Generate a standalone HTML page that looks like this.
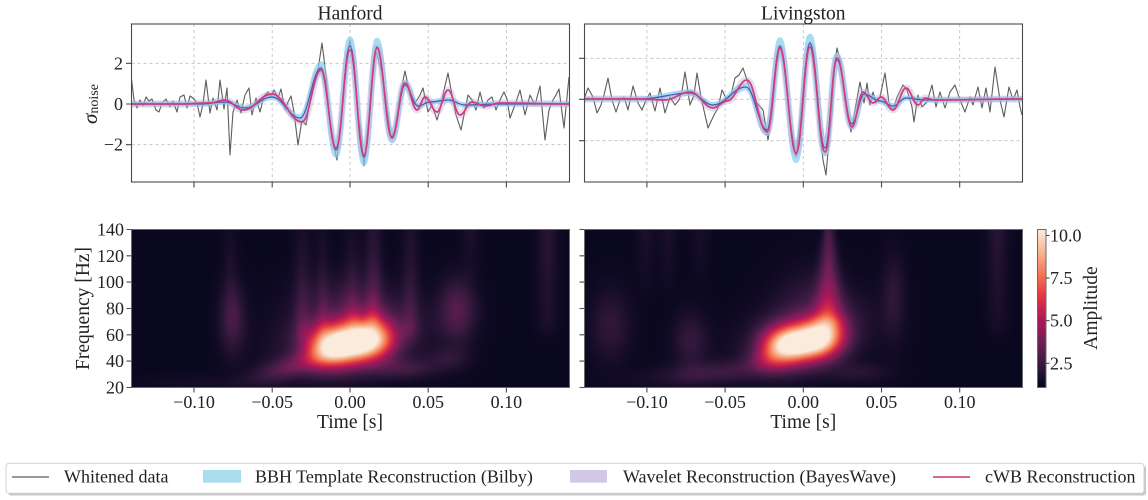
<!DOCTYPE html>
<html>
<head>
<meta charset="utf-8">
<style>
html,body{margin:0;padding:0;background:#fff;}
body{width:1148px;height:500px;overflow:hidden;position:relative;}
canvas{position:absolute;background:#0a0820;}
#ov{position:absolute;left:0;top:0;z-index:2;}
svg text{font-family:"Liberation Serif","DejaVu Serif",serif;fill:#222;}
</style>
</head>
<body>
<canvas id="cH" width="438" height="158" style="left:131.5px;top:229.5px;width:438px;height:158px;"></canvas>
<canvas id="cL" width="438" height="158" style="left:584.5px;top:229.5px;width:438px;height:158px;"></canvas>

<svg id="ov" width="1148" height="500" viewBox="0 0 1148 500" xmlns="http://www.w3.org/2000/svg">
<defs>
<clipPath id="clipH"><rect x="131.5" y="24" width="438" height="158"/></clipPath>
<clipPath id="clipL"><rect x="584.5" y="24" width="438" height="158"/></clipPath>
<linearGradient id="rocket" x1="0" y1="1" x2="0" y2="0">
<stop offset="0" stop-color="#03051a"/>
<stop offset="0.1429" stop-color="#35193e"/>
<stop offset="0.2857" stop-color="#701f57"/>
<stop offset="0.4286" stop-color="#ad1759"/>
<stop offset="0.5714" stop-color="#e13342"/>
<stop offset="0.7143" stop-color="#f37651"/>
<stop offset="0.8571" stop-color="#f6b48f"/>
<stop offset="1" stop-color="#faebdd"/>
</linearGradient>
</defs>

<!-- grids -->
<g stroke="#bdbdbd" stroke-width="0.8" stroke-dasharray="3 3" fill="none">
<path d="M194,24V182 M272.2,24V182 M350,24V182 M428.2,24V182 M506.4,24V182 M131.5,63.3H569.5 M131.5,104H569.5 M131.5,144.7H569.5"/>
<path d="M646.9,24V182 M725.1,24V182 M803.3,24V182 M881.5,24V182 M959.7,24V182 M584.5,58.3H1022.5 M584.5,99.3H1022.5 M584.5,140.7H1022.5"/>
</g>

<!-- Hanford series -->
<g clip-path="url(#clipH)" fill="none">
<polyline stroke="#5c5c5c" stroke-width="1.1" stroke-linejoin="round" points="131,75 134,100 137,108 140,100 143,106 146,97 149,101 152,99 156,110 159,112 162,103 166,99 170,107 173,101 177,112 180,97 184,95 187,108 190,96 194,99 197,103 200,117 203,104 206,80 210,113 213,98 217,110 220,80 224,109 227,88 230,155 233,112 237,100 241,113 245,95 249,88 252,115 256,98 260,112 264,96 268,92 271,97 274,90 278,98 281,89 285,110 288,102 291,96 294,112 298,145 302,120 306,125 310,100 315,82 318,70 322,43 326,75 330,125 333,142 337,160 342,110 347,55 350,40 354,70 358,115 361,130 364,166 368,130 372,80 376,51 379,62 382,73 386,100 391,137 395,130 400,95 405,71 409,90 413,105 417,100 420,95 423,88 428,112 432,105 437,120 440,110 444,90 448,73 452,95 456,115 461,130 465,110 468,95 472,100 476,110 480,92 484,108 488,100 492,97 496,110 500,100 504,92 507,99 510,118 515,105 520,90 525,115 530,95 535,105 540,86 545,140 549,110 553,100 556,95 559,89 564,128 569,77"/>
<g opacity="0.7" stroke="#87ceeb" stroke-width="5" stroke-linejoin="round">
<path vector-effect="non-scaling-stroke" transform="matrix(1,0,0,1.12,0,-12.48)" d="M131,104 C159,104 172,104 200,104 C210,104 215,102 225,102 C233,102 237,108 245,108 C256,108 261,97 272,97 C283,97 289,118 300,118 C308,118 313,68 321,68 C327,68 330,150 336,150 C342,150 344,46 350,46 C356,46 358,157 364,157 C369,157 372,47 377,47 C383,47 386,137 392,137 C397,137 400,85 405,85 C410,85 413,106 418,106 C423,106 425,102 430,102 C437,102 441,100 448,100 C455,100 458,105 465,105 C479,105 486,104 500,104 C528,104 541,104 569,104"/>
<path d="M131,104 C159,104 172,104 200,104 C210,104 215,102 225,102 C233,102 237,108 245,108 C256,108 261,97 272,97 C283,97 289,118 300,118 C308,118 313,68 321,68 C327,68 330,150 336,150 C342,150 344,46 350,46 C356,46 358,157 364,157 C369,157 372,47 377,47 C383,47 386,137 392,137 C397,137 400,85 405,85 C410,85 413,106 418,106 C423,106 425,102 430,102 C437,102 441,100 448,100 C455,100 458,105 465,105 C479,105 486,104 500,104 C528,104 541,104 569,104"/>
<path vector-effect="non-scaling-stroke" transform="matrix(1,0,0,0.92,0,8.32)" d="M131,104 C159,104 172,104 200,104 C210,104 215,102 225,102 C233,102 237,108 245,108 C256,108 261,97 272,97 C283,97 289,118 300,118 C308,118 313,68 321,68 C327,68 330,150 336,150 C342,150 344,46 350,46 C356,46 358,157 364,157 C369,157 372,47 377,47 C383,47 386,137 392,137 C397,137 400,85 405,85 C410,85 413,106 418,106 C423,106 425,102 430,102 C437,102 441,100 448,100 C455,100 458,105 465,105 C479,105 486,104 500,104 C528,104 541,104 569,104"/>
</g>
<path opacity="0.35" stroke="#b4a0d6" stroke-width="7" stroke-linejoin="round" d="M131,104 C151,104 160,104 180,104 C192,104 198,103 210,103 C216,103 219,100 225,100 C232,100 236,110 243,110 C255,110 260,94 272,94 C284,94 290,122 302,122 C310,122 313,70 321,70 C327,70 330,148 336,148 C342,148 344,50 350,50 C356,50 358,155 364,155 C369,155 372,48 377,48 C383,48 386,138 392,138 C397,138 400,83 405,83 C410,83 412,110 417,110 C420,110 422,97 425,97 C430,97 432,112 437,112 C441,112 444,90 448,90 C453,90 455,115 460,115 C465,115 467,102 472,102 C477,102 480,106 485,106 C491,106 494,103 500,103 C528,103 541,104 569,104"/>
<path stroke="#4a55b5" stroke-width="1.2" d="M131,104 C159,104 172,104 200,104 C210,104 215,102 225,102 C233,102 237,108 245,108 C256,108 261,97 272,97 C283,97 289,118 300,118 C308,118 313,68 321,68 C327,68 330,150 336,150 C342,150 344,46 350,46 C356,46 358,157 364,157 C369,157 372,47 377,47 C383,47 386,137 392,137 C397,137 400,85 405,85 C410,85 413,106 418,106 C423,106 425,102 430,102 C437,102 441,100 448,100 C455,100 458,105 465,105 C479,105 486,104 500,104 C528,104 541,104 569,104"/>
<path stroke="#d23c7a" stroke-width="1.7" d="M131,104 C151,104 160,104 180,104 C192,104 198,103 210,103 C216,103 219,100 225,100 C232,100 236,110 243,110 C255,110 260,94 272,94 C284,94 290,122 302,122 C310,122 313,70 321,70 C327,70 330,148 336,148 C342,148 344,50 350,50 C356,50 358,155 364,155 C369,155 372,48 377,48 C383,48 386,138 392,138 C397,138 400,83 405,83 C410,83 412,110 417,110 C420,110 422,97 425,97 C430,97 432,112 437,112 C441,112 444,90 448,90 C453,90 455,115 460,115 C465,115 467,102 472,102 C477,102 480,106 485,106 C491,106 494,103 500,103 C528,103 541,104 569,104"/>
</g>

<!-- Livingston series -->
<g clip-path="url(#clipL)" fill="none">
<polyline stroke="#5c5c5c" stroke-width="1.1" stroke-linejoin="round" points="584,99 588,88 593,97 597,113 601,105 604,95 608,78 612,100 616,112 620,100 624,97 628,110 633,86 638,103 642,110 646,100 650,93 655,111 660,88 665,113 670,97 675,105 679,100 682,91 685,72 690,105 694,95 697,73 701,97 705,115 708,128 714,115 718,108 722,90 727,100 731,95 735,78 739,75 743,68 747,80 751,92 757,103 763,110 768,140 772,115 776,70 780,46 785,70 790,120 796,157 800,120 805,70 810,42 815,70 819,125 823,160 826,175 829,140 832,113 834,70 837,48 840,60 845,100 851,132 855,110 860,82 864,103 867,83 870,105 873,92 876,103 880,97 885,73 889,103 893,110 897,97 903,85 907,90 912,107 914,122 918,95 922,107 927,102 932,85 936,107 940,92 945,108 950,92 955,85 960,100 965,112 970,97 973,105 978,87 982,108 986,88 990,112 995,67 1000,100 1004,117 1009,87 1013,100 1017,90 1020,107 1022,115"/>
<g opacity="0.7" stroke="#87ceeb" stroke-width="5" stroke-linejoin="round">
<path vector-effect="non-scaling-stroke" transform="matrix(1,0,0,1.12,0,-11.92)" d="M584,99 C606,99 618,99 640,99 C660,99 670,93 690,93 C699,93 704,105 713,105 C726,105 733,87 746,87 C754,87 759,130 767,130 C772,130 775,46 780,46 C786,46 790,154 796,154 C802,154 804,43 810,43 C816,43 819,148 825,148 C830,148 832,60 837,60 C843,60 846,124 852,124 C856,124 860,94 864,94 C870,94 874,101 880,101 C885,101 888,106 893,106 C898,106 901,98 906,98 C914,98 917,100 925,100 C964,100 983,99 1022,99"/>
<path d="M584,99 C606,99 618,99 640,99 C660,99 670,93 690,93 C699,93 704,105 713,105 C726,105 733,87 746,87 C754,87 759,130 767,130 C772,130 775,46 780,46 C786,46 790,154 796,154 C802,154 804,43 810,43 C816,43 819,148 825,148 C830,148 832,60 837,60 C843,60 846,124 852,124 C856,124 860,94 864,94 C870,94 874,101 880,101 C885,101 888,106 893,106 C898,106 901,98 906,98 C914,98 917,100 925,100 C964,100 983,99 1022,99"/>
<path vector-effect="non-scaling-stroke" transform="matrix(1,0,0,0.92,0,7.94)" d="M584,99 C606,99 618,99 640,99 C660,99 670,93 690,93 C699,93 704,105 713,105 C726,105 733,87 746,87 C754,87 759,130 767,130 C772,130 775,46 780,46 C786,46 790,154 796,154 C802,154 804,43 810,43 C816,43 819,148 825,148 C830,148 832,60 837,60 C843,60 846,124 852,124 C856,124 860,94 864,94 C870,94 874,101 880,101 C885,101 888,106 893,106 C898,106 901,98 906,98 C914,98 917,100 925,100 C964,100 983,99 1022,99"/>
</g>
<path opacity="0.35" stroke="#b4a0d6" stroke-width="7" stroke-linejoin="round" d="M584,99 C606,99 618,99 640,99 C650,99 655,100 665,100 C675,100 680,92 690,92 C699,92 704,108 713,108 C719,108 721,101 727,101 C735,101 739,80 747,80 C755,80 759,132 767,132 C772,132 775,48 780,48 C786,48 790,153 796,153 C802,153 804,47 810,47 C816,47 819,152 825,152 C830,152 832,58 837,58 C843,58 846,127 852,127 C856,127 859,92 863,92 C867,92 869,103 873,103 C876,103 878,97 881,97 C886,97 888,110 893,110 C898,110 901,88 906,88 C911,88 913,105 918,105 C921,105 922,98 925,98 C929,98 931,100 935,100 C970,100 987,99 1022,99"/>
<path stroke="#4a55b5" stroke-width="1.2" d="M584,99 C606,99 618,99 640,99 C660,99 670,93 690,93 C699,93 704,105 713,105 C726,105 733,87 746,87 C754,87 759,130 767,130 C772,130 775,46 780,46 C786,46 790,154 796,154 C802,154 804,43 810,43 C816,43 819,148 825,148 C830,148 832,60 837,60 C843,60 846,124 852,124 C856,124 860,94 864,94 C870,94 874,101 880,101 C885,101 888,106 893,106 C898,106 901,98 906,98 C914,98 917,100 925,100 C964,100 983,99 1022,99"/>
<path stroke="#d23c7a" stroke-width="1.7" d="M584,99 C606,99 618,99 640,99 C650,99 655,100 665,100 C675,100 680,92 690,92 C699,92 704,108 713,108 C719,108 721,101 727,101 C735,101 739,80 747,80 C755,80 759,132 767,132 C772,132 775,48 780,48 C786,48 790,153 796,153 C802,153 804,47 810,47 C816,47 819,152 825,152 C830,152 832,58 837,58 C843,58 846,127 852,127 C856,127 859,92 863,92 C867,92 869,103 873,103 C876,103 878,97 881,97 C886,97 888,110 893,110 C898,110 901,88 906,88 C911,88 913,105 918,105 C921,105 922,98 925,98 C929,98 931,100 935,100 C970,100 987,99 1022,99"/>
</g>

<!-- top frames + ticks -->
<g stroke="#4a4a4a" stroke-width="1.1" fill="none">
<rect x="131.5" y="24" width="438" height="158"/>
<rect x="584.5" y="24" width="438" height="158"/>
<path d="M194,182V187.5 M272.2,182V187.5 M350,182V187.5 M428.2,182V187.5 M506.4,182V187.5 M126,63.3H131.5 M126,104H131.5 M126,144.7H131.5"/>
<path d="M646.9,182V187.5 M725.1,182V187.5 M803.3,182V187.5 M881.5,182V187.5 M959.7,182V187.5 M579,58.3H584.5 M579,99.3H584.5 M579,140.7H584.5"/>
</g>

<!-- titles -->
<text x="350" y="19.5" font-size="19.5" text-anchor="middle">Hanford</text>
<text x="803.3" y="19.5" font-size="19.5" text-anchor="middle">Livingston</text>

<!-- top y tick labels -->
<g font-size="18" text-anchor="end">
<text x="123" y="69.3">2</text>
<text x="123" y="110">0</text>
<text x="123" y="150.7">−2</text>
</g>
<text transform="translate(97,104) rotate(-90)" text-anchor="middle" font-size="21"><tspan font-style="italic">σ</tspan><tspan font-size="14" dy="1">noise</tspan></text>

<!-- spectrogram frames + ticks -->
<g stroke="#6a6a6a" stroke-width="1" fill="none">
<rect x="131.5" y="229.5" width="438" height="158"/>
<rect x="584.5" y="229.5" width="438" height="158"/>
</g>
<g stroke="#4a4a4a" stroke-width="1.1" fill="none">
<path d="M194,387.5V392.5 M272.2,387.5V392.5 M350,387.5V392.5 M428.2,387.5V392.5 M506.4,387.5V392.5 M126.5,387.5H131.5 M126.5,361.1H131.5 M126.5,334.8H131.5 M126.5,308.5H131.5 M126.5,282.1H131.5 M126.5,255.8H131.5 M126.5,229.5H131.5"/>
<path d="M646.9,387.5V392.5 M725.1,387.5V392.5 M803.3,387.5V392.5 M881.5,387.5V392.5 M959.7,387.5V392.5 M579.5,387.5H584.5 M579.5,361.1H584.5 M579.5,334.8H584.5 M579.5,308.5H584.5 M579.5,282.1H584.5 M579.5,255.8H584.5 M579.5,229.5H584.5"/>
</g>
<g font-size="18" text-anchor="end">
<text x="124" y="393.5">20</text>
<text x="124" y="367.1">40</text>
<text x="124" y="340.8">60</text>
<text x="124" y="314.5">80</text>
<text x="124" y="288.1">100</text>
<text x="124" y="261.8">120</text>
<text x="124" y="235.5">140</text>
</g>
<g font-size="18" text-anchor="middle">
<text x="194" y="408">−0.10</text>
<text x="272.2" y="408">−0.05</text>
<text x="350" y="408">0.00</text>
<text x="428.2" y="408">0.05</text>
<text x="506.4" y="408">0.10</text>
<text x="646.9" y="408">−0.10</text>
<text x="725.1" y="408">−0.05</text>
<text x="803.3" y="408">0.00</text>
<text x="881.5" y="408">0.05</text>
<text x="959.7" y="408">0.10</text>
</g>
<text x="350" y="428" font-size="19.5" text-anchor="middle">Time [s]</text>
<text x="803.3" y="428" font-size="19.5" text-anchor="middle">Time [s]</text>
<text transform="translate(89,308.5) rotate(-90)" font-size="19.5" text-anchor="middle">Frequency [Hz]</text>

<!-- colorbar -->
<rect x="1037.5" y="229.5" width="8.5" height="158" fill="url(#rocket)" stroke="#6a6a6a" stroke-width="1"/>
<path d="M1046,235.5H1049.5 M1046,278.1H1049.5 M1046,320.7H1049.5 M1046,363.3H1049.5" stroke="#4a4a4a" stroke-width="1.1"/>
<g font-size="18">
<text x="1050" y="241.5">10.0</text>
<text x="1050" y="284.1">7.5</text>
<text x="1050" y="326.7">5.0</text>
<text x="1050" y="369.3">2.5</text>
</g>
<text transform="translate(1097,308) rotate(-90)" font-size="19.5" text-anchor="middle">Amplitude</text>

<!-- legend -->
<rect x="8" y="465.5" width="1138" height="30" rx="3" fill="#9a9a9a" opacity="0.55"/>
<rect x="6" y="463.3" width="1138" height="30" rx="3" fill="#fff" stroke="#d0d0d0" stroke-width="1"/>
<line x1="12" y1="477" x2="49" y2="477" stroke="#5c5c5c" stroke-width="1.2"/>
<text x="64" y="482.7" font-size="18">Whitened data</text>
<rect x="203" y="470" width="38" height="12.7" fill="#aadcf0"/>
<text x="255" y="482.7" font-size="18">BBH Template Reconstruction (Bilby)</text>
<rect x="570" y="470" width="37" height="12.7" fill="#d2c7e5"/>
<text x="623" y="482.7" font-size="18">Wavelet Reconstruction (BayesWave)</text>
<line x1="933" y1="477" x2="970" y2="477" stroke="#c8366a" stroke-width="1.4"/>
<text x="985" y="482.7" font-size="18">cWB Reconstruction</text>
</svg>

<script>
(function(){
var stops=[[0,3,5,26],[0.1429,53,25,62],[0.2857,112,31,87],[0.4286,173,23,89],[0.5714,225,51,66],[0.7143,243,118,81],[0.8571,246,180,143],[1,250,235,221]];
function cmap(v){
  if(v<0)v=0; if(v>1)v=1;
  for(var k=1;k<stops.length;k++){
    if(v<=stops[k][0]){
      var a=stops[k-1],b=stops[k],f=(v-a[0])/(b[0]-a[0]);
      return [a[1]+(b[1]-a[1])*f,a[2]+(b[2]-a[2])*f,a[3]+(b[3]-a[3])*f];
    }
  }
  return [250,235,221];
}
function blob(f,x,y){
  var dx=x-f.x,dy=y-f.y,th=(f.r||0)*Math.PI/180,c=Math.cos(th),s=Math.sin(th);
  var u=(dx*c-dy*s)/f.sx,v=(dx*s+dy*c)/f.sy,p=f.p||2;
  return f.a*Math.exp(-0.5*(Math.pow(Math.abs(u),p)+v*v));
}
function plume(f,x,y){
  var sx=f.sx+(f.g||0)*Math.max(0,y-229);
  var dx=x-f.x,gx=Math.exp(-0.5*dx*dx/(sx*sx)),amp;
  if(y<=f.yb){var t=(y-229)/(f.yb-229); if(t<0)t=0; amp=f.at+(f.ab-f.at)*t;}
  else {var d=(y-f.yb)/10; amp=f.ab*Math.exp(-0.5*d*d);}
  return amp*gx;
}
var H=[
 {t:'b',x:350,y:343,sx:32,sy:14,a:9.5,r:10,p:3},
 {t:'b',x:350,y:340,sx:45,sy:22,a:2.0,r:8},
 {t:'b',x:348,y:308,sx:38,sy:24,a:1.1},
 {t:'b',x:292,y:366,sx:28,sy:8,a:1.8,r:16},
 {t:'b',x:200,y:382,sx:45,sy:5,a:0.3},
 {t:'b',x:232,y:318,sx:9,sy:24,a:1.5},
 {t:'b',x:230,y:262,sx:5,sy:35,a:0.4},
 {t:'p',x:302,yb:325,sx:6,at:0.4,ab:1.0},
 {t:'p',x:322,yb:325,sx:5,at:0.3,ab:0.8},
 {t:'p',x:352,yb:315,sx:6,at:0.3,ab:0.9},
 {t:'p',x:373,yb:315,sx:6,at:0.7,ab:1.4},
 {t:'p',x:410,yb:325,sx:6,at:0.5,ab:1.0},
 {t:'b',x:457,y:310,sx:13,sy:22,a:1.8},
 {t:'b',x:448,y:358,sx:15,sy:8,a:0.8},
 {t:'b',x:405,y:368,sx:22,sy:7,a:1.2},
 {t:'p',x:547,yb:320,sx:7,at:0.8,ab:0.5},
 {t:'p',x:470,yb:270,sx:6,at:0.5,ab:0.2}
];
var L=[
 {t:'b',x:802,y:342,sx:30,sy:13,a:9.5,r:10,p:3},
 {t:'b',x:805,y:336,sx:40,sy:22,a:2.0,r:15},
 {t:'p',x:828,yb:318,sx:4,g:0.07,at:1.5,ab:3.0},
 {t:'b',x:812,y:302,sx:26,sy:26,a:0.8},
 {t:'b',x:715,y:372,sx:45,sy:8,a:1.2,r:5},
 {t:'b',x:690,y:340,sx:12,sy:20,a:1.1},
 {t:'b',x:765,y:360,sx:12,sy:8,a:1.2},
 {t:'b',x:610,y:325,sx:14,sy:25,a:1.0},
 {t:'p',x:645,yb:280,sx:6,at:0.5,ab:0.2},
 {t:'p',x:667,yb:280,sx:6,at:0.5,ab:0.2},
 {t:'p',x:700,yb:270,sx:6,at:0.4,ab:0.2},
 {t:'b',x:893,y:295,sx:8,sy:30,a:0.9},
 {t:'p',x:997,yb:320,sx:7,at:0.8,ab:0.4},
 {t:'b',x:860,y:372,sx:22,sy:7,a:0.7}
];
function draw(id,left,top,feats){
  var cv=document.getElementById(id); if(!cv||!cv.getContext)return;
  var ctx=cv.getContext('2d'),W=cv.width,Hh=cv.height,img=ctx.createImageData(W,Hh),d=img.data;
  for(var j=0;j<Hh;j++){
    var y=top+j+0.5;
    for(var i=0;i<W;i++){
      var x=left+i+0.5,A=1.25;
      for(var k=0;k<feats.length;k++){var f=feats[k]; A+= (f.t==='b')?blob(f,x,y):plume(f,x,y);}
      var c=cmap((A-1.07)/9.27),o=(j*W+i)*4;
      d[o]=c[0];d[o+1]=c[1];d[o+2]=c[2];d[o+3]=255;
    }
  }
  ctx.putImageData(img,0,0);
}
draw('cH',131.5,229.5,H);
draw('cL',584.5,229.5,L);
})();
</script>
</body>
</html>
